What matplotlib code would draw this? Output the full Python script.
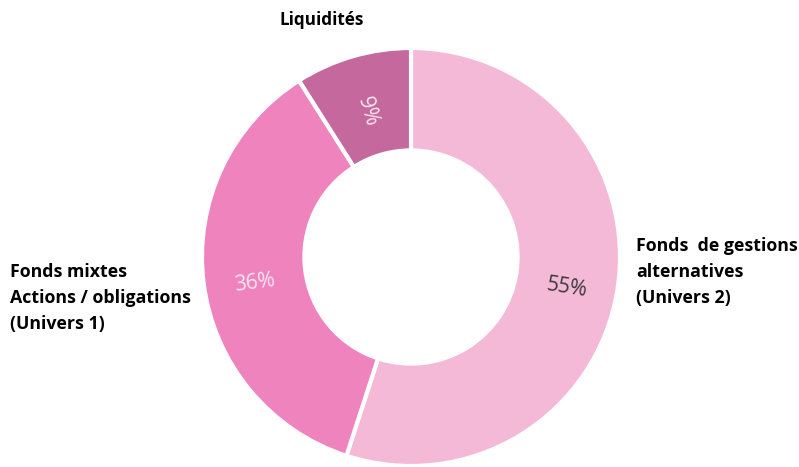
import numpy as np
import matplotlib
matplotlib.use("Agg")
import matplotlib.pyplot as plt

# Répartition du portefeuille
categories = ["Fonds  de gestions\nalternatives\n(Univers 2)",
              "Fonds mixtes\nActions / obligations\n(Univers 1)",
              "Liquidités"]
parts = [55, 36, 9]
colors = ["#F4B9D7", "#EE83BE", "#C5689D"]
pct_colors = ["#3a3a3a", "#fbe6f1", "#fbe6f1"]

W, H = 799, 467
fig = plt.figure(figsize=(W / 100, H / 100), dpi=100)
ax = fig.add_axes([0, 0, 1, 1])

cx, cy, r_out = 411, H - 257, 209
ring = 0.49

wedges, _ = ax.pie(parts, colors=colors, startangle=90, counterclock=False,
                   center=(cx, cy), radius=r_out,
                   wedgeprops=dict(width=r_out * ring, edgecolor="white", linewidth=3))

# pourcentages, orientés le long du rayon (un peu plus bas que le milieu)
r_mid = r_out * (1 - ring / 2)
for w, p, c in zip(wedges, parts, pct_colors):
    mid = (w.theta1 + w.theta2) / 2
    x = cx + r_mid * np.cos(np.radians(mid))
    y = cy + r_mid * np.sin(np.radians(mid)) - 6
    rot = mid if -90 <= mid <= 90 else mid - 180
    if rot < -180:
        rot += 360
    ax.text(x, y, f"{p}%", ha="center", va="center", rotation=rot,
            color=c, fontsize=15, family="Open Sans")

# libellés extérieurs
ax.text(636, H - 272, categories[0], ha="left", va="center",
        fontsize=12.8, fontweight="bold", family="Open Sans", linespacing=1.55)
ax.text(10, H - 298, categories[1], ha="left", va="center",
        fontsize=12.8, fontweight="bold", family="Open Sans", linespacing=1.55)
ax.text(322, H - 20, categories[2], ha="center", va="center",
        fontsize=12.3, fontweight="bold", family="Open Sans")

ax.set_xlim(0, W)
ax.set_ylim(0, H)
ax.set_aspect("equal")
ax.axis("off")

fig.savefig("out.png", dpi=100, facecolor="white")
